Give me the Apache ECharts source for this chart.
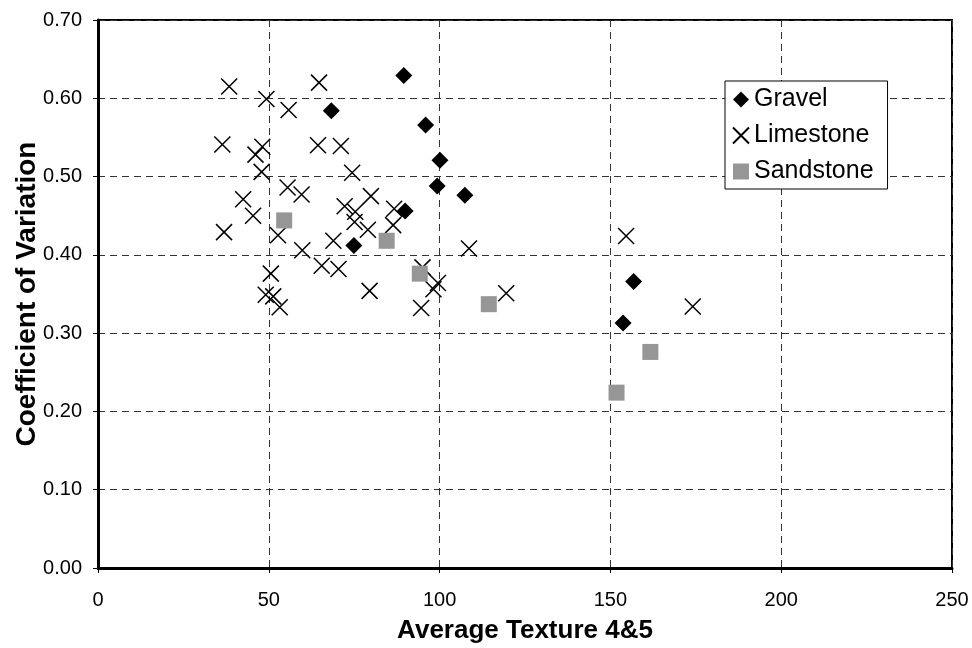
<!DOCTYPE html>
<html>
<head>
<meta charset="utf-8">
<script src="https://cdn.jsdelivr.net/npm/echarts@6/dist/echarts.min.js"></script>
<style>
html,body{margin:0;padding:0;background:#fff;}
#c{width:972px;height:648px;}
</style>
</head>
<body>
<div id="c"></div>
<script>
var gravel = [
  [89.5,0.629],[68.3,0.584],[95.9,0.566],[100.1,0.521],[99.3,0.488],
  [107.4,0.476],[89.9,0.456],[74.9,0.412],[156.8,0.366],[153.7,0.313]
];
var limestone = [
  [38.4,0.615],[49.3,0.599],[55.8,0.585],[64.7,0.620],[36.4,0.541],
  [48.1,0.538],[46.1,0.528],[64.4,0.540],[71.1,0.539],[47.9,0.506],
  [55.5,0.486],[59.6,0.477],[42.5,0.471],[74.4,0.505],[79.9,0.475],
  [72.2,0.462],[75.3,0.455],[86.7,0.459],[75.1,0.442],[86.4,0.438],
  [79.0,0.432],[68.9,0.418],[59.8,0.406],[108.6,0.408],[65.5,0.386],
  [70.4,0.382],[79.5,0.354],[95.0,0.384],[99.5,0.364],[98.2,0.356],
  [94.6,0.332],[119.5,0.351],[45.4,0.450],[36.9,0.429],[52.7,0.425],
  [50.6,0.376],[49.1,0.349],[51.3,0.347],[53.2,0.333],[154.6,0.424],
  [174.1,0.334]
];
var sandstone = [
  [54.5,0.444],[84.5,0.418],[94.2,0.376],[114.4,0.337],[161.7,0.276],[151.8,0.224]
];
var xTicks = [0,50,100,150,200,250];
var yTicks = [0,0.1,0.2,0.3,0.4,0.5,0.6,0.7];

var font = 'Arial, "Liberation Sans", sans-serif';
var chart = echarts.init(document.getElementById('c'), null, {renderer:'canvas'});
chart.setOption({
  animation:false,
  backgroundColor:'#fff',
  textStyle:{fontFamily:font},
  grid:{left:98,top:20,right:20,bottom:80,outerBoundsMode:'none',containLabel:false,
        show:true,borderColor:'#000',borderWidth:2,backgroundColor:'transparent'},
  legend:{
    orient:'vertical',
    left:725, top:81,
    backgroundColor:'#fff',
    borderColor:'#000', borderWidth:1,
    padding:[6,14,5,7],
    itemGap:11,
    itemWidth:16, itemHeight:16,
    textStyle:{fontFamily:font,fontSize:25,color:'#000',padding:[0,0,0,0]},
    data:['Gravel','Limestone','Sandstone']
  },
  xAxis:{
    type:'value',min:xTicks[0],max:xTicks[xTicks.length-1],interval:50,
    name:'Average Texture 4&5',nameLocation:'middle',nameGap:50,nameMoveOverlap:false,
    nameTextStyle:{fontFamily:font,fontSize:26,fontWeight:'bold',color:'#000'},
    axisLine:{show:true,lineStyle:{color:'#000',width:3}},
    axisTick:{show:true,length:5,lineStyle:{color:'#000',width:1}},
    axisLabel:{fontFamily:font,fontSize:20,color:'#000',margin:22},
    splitLine:{show:true,lineStyle:{color:'#333',width:1,type:[7,5]}}
  },
  yAxis:{
    type:'value',min:yTicks[0],max:yTicks[yTicks.length-1],interval:0.1,
    name:'Coefficient of Variation',nameLocation:'middle',nameGap:57,nameMoveOverlap:false,
    nameTextStyle:{fontFamily:font,fontSize:28,fontWeight:'bold',color:'#000'},
    axisLine:{show:true,lineStyle:{color:'#000',width:3}},
    axisTick:{show:true,length:5,lineStyle:{color:'#000',width:1}},
    axisLabel:{fontFamily:font,fontSize:20,color:'#000',margin:16,formatter:function(v){return v.toFixed(2);}},
    splitLine:{show:true,lineStyle:{color:'#333',width:1,type:[7,5]}}
  },
  series:[
    {name:'Gravel',type:'scatter',data:gravel,symbol:'diamond',symbolSize:17,
     itemStyle:{color:'#000',opacity:1},z:3},
    {name:'Limestone',type:'scatter',data:limestone,
     symbol:'path://M0,0L10,10M10,0L0,10',symbolSize:16,
     itemStyle:{color:'transparent',borderColor:'#000',borderWidth:1.5,opacity:1},z:2},
    {name:'Sandstone',type:'scatter',data:sandstone,symbol:'rect',symbolSize:16,
     itemStyle:{color:'#969696',opacity:1},z:4}
  ]
});
</script>
</body>
</html>
